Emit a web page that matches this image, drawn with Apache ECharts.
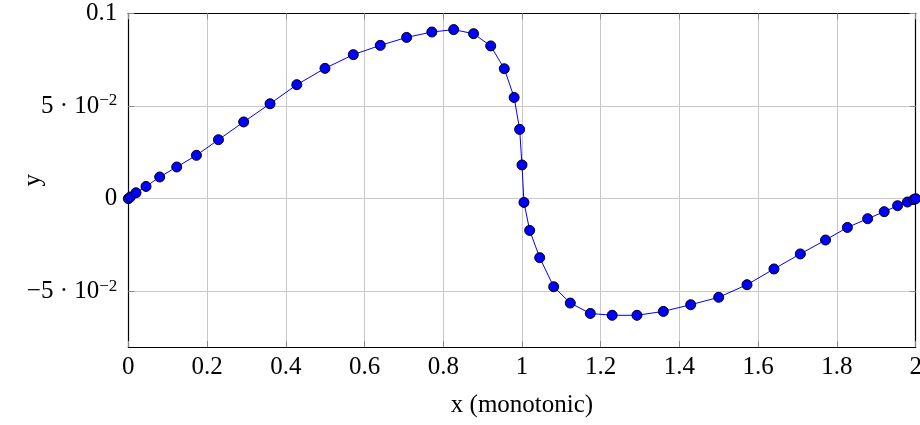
<!DOCTYPE html>
<html>
<head>
<meta charset="utf-8">
<script src="https://cdn.jsdelivr.net/npm/echarts@6/dist/echarts.min.js"></script>
<style>
  html, body { margin: 0; padding: 0; background: #fff; }
  #chart { width: 920px; height: 425px; }
</style>
</head>
<body>
<div id="chart"></div>
<script>
// Sample positions along x (denser near 0, 1 and 2) and the measured y values
const xValues = [0, 0.005, 0.0196, 0.045, 0.0797, 0.123, 0.173, 0.229, 0.293, 0.360,
  0.428, 0.4996, 0.5715, 0.640, 0.707, 0.771, 0.8265, 0.877, 0.9205, 0.955,
  0.980, 0.994, 1.000, 1.005, 1.0195, 1.045, 1.0805, 1.1227, 1.1735, 1.229,
  1.292, 1.359, 1.4285, 1.4996, 1.5715, 1.640, 1.707, 1.771, 1.8264, 1.878,
  1.920, 1.954, 1.979, 1.995, 2.0];
const yValues = [0, 0.0009, 0.0032, 0.0066, 0.0117, 0.0171, 0.0234, 0.0318, 0.0414, 0.0512,
  0.0615, 0.0703, 0.0777, 0.0827, 0.0870, 0.0899, 0.0912, 0.0890, 0.0824, 0.0701,
  0.0546, 0.0374, 0.0182, -0.0020, -0.0171, -0.0318, -0.0475, -0.0563, -0.0619, -0.0629,
  -0.0629, -0.0608, -0.0572, -0.0532, -0.0464, -0.0379, -0.0298, -0.0223, -0.0155, -0.0108,
  -0.0070, -0.0038, -0.0018, -0.0005, 0];
const yTicks = [-0.05, 0, 0.05, 0.1];

const FONT = '"Liberation Serif", "DejaVu Serif", serif';
const points = xValues.map((x, i) => [x, yValues[i]]);

function fmtX(v) {
  return String(Math.round(v * 10) / 10);
}
function fmtY(v) {
  const r = Math.round(v * 1000) / 1000;
  if (r === 0) return '0';
  if (r === 0.1) return '0.1';
  const mant = Math.round(r * 100);
  return (mant < 0 ? '\u2212' : '') + Math.abs(mant) + ' \u00b7 10{sup|\u22122}';
}

const gridLine = { show: true, lineStyle: { color: '#c8c8c8', width: 1 } };
const innerTick = { show: true, inside: true, length: 6, lineStyle: { color: '#8a8a8a', width: 1 } };
const frameLine = { show: true, onZero: false, lineStyle: { color: '#000', width: 1.2 } };

const chart = echarts.init(document.getElementById('chart'), null, { renderer: 'canvas' });
chart.setOption({
  animation: false,
  backgroundColor: '#fff',
  grid: { left: 128.3, right: 4.3, top: 13.3, bottom: 78, containLabel: false, outerBoundsMode: 'none' },
  xAxis: [{
    type: 'value', min: 0, max: 2, interval: 0.2,
    name: 'x (monotonic)', nameLocation: 'middle', nameGap: 46, nameMoveOverlap: false,
    nameTextStyle: { fontFamily: FONT, fontSize: 25, color: '#000' },
    axisLine: frameLine, axisTick: innerTick, splitLine: gridLine,
    axisLabel: { formatter: fmtX, fontFamily: FONT, fontSize: 25, color: '#000', margin: 8, hideOverlap: false }
  }, {
    type: 'value', position: 'top', min: 0, max: 2, interval: 0.2,
    axisLine: frameLine, axisTick: innerTick, splitLine: { show: false },
    axisLabel: { show: false }
  }],
  yAxis: [{
    type: 'value', min: -0.08, max: 0.1,
    name: 'y', nameLocation: 'middle', nameGap: 82, nameRotate: 90, nameMoveOverlap: false,
    nameTextStyle: { fontFamily: FONT, fontSize: 25, color: '#000' },
    axisLine: frameLine,
    axisTick: Object.assign({ customValues: yTicks }, innerTick),
    splitLine: gridLine,
    axisLabel: {
      customValues: yTicks, formatter: fmtY, margin: 11,
      fontFamily: FONT, fontSize: 25, color: '#000',
      rich: { sup: { fontFamily: FONT, fontSize: 17, color: '#000', verticalAlign: 'top', padding: [0, 0, 10, 0] } }
    }
  }, {
    type: 'value', position: 'right', min: -0.08, max: 0.1,
    axisLine: frameLine,
    axisTick: Object.assign({ customValues: yTicks }, innerTick),
    splitLine: { show: false }, axisLabel: { show: false }
  }],
  series: [{
    type: 'line', xAxisIndex: 0, yAxisIndex: 0,
    data: points,
    symbol: 'circle', symbolSize: 10,
    lineStyle: { color: '#0000ff', width: 1 },
    itemStyle: { color: '#0000ff', borderColor: '#000', borderWidth: 1 },
    z: 5
  }]
});
</script>
</body>
</html>
